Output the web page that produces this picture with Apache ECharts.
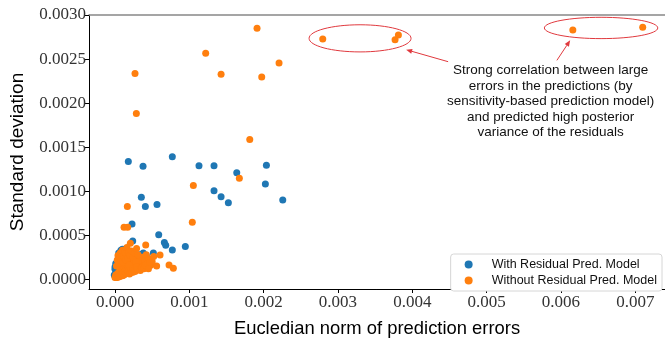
<!DOCTYPE html>
<html>
<head>
<meta charset="utf-8">
<script src="https://cdn.jsdelivr.net/npm/echarts@6/dist/echarts.min.js"></script>
<style>
  html, body { margin: 0; padding: 0; background: #fff; }
  #chart { width: 665px; height: 343px; }
</style>
</head>
<body>
<div id="chart"></div>
<script>
// tick labels
var xTicks = [0, 0.001, 0.002, 0.003, 0.004, 0.005, 0.006, 0.007];
var yTicks = [0, 0.0005, 0.001, 0.0015, 0.002, 0.0025, 0.003];

// with residual prediction model (blue), [error norm, std]
var withResidual = [
    [0.000179, 0.001338], [0.000377, 0.001283], [0.000771, 0.00139], [0.00113, 0.00129],
    [0.001332, 0.00129], [0.001638, 0.00121], [0.002037, 0.001294], [0.002023, 0.001081],
    [0.001332, 0.001004], [0.001427, 0.000937], [0.001525, 0.000868], [0.002257, 0.0009],
    [0.000354, 0.00093], [0.000408, 0.000827], [0.000565, 0.000849], [0.000229, 0.000629],
    [0.000588, 0.000507], [0.000664, 0.000419], [0.000682, 0.000386], [0.000771, 0.000334],
    [0.000946, 0.000371], [0.000238, 0.000434], [0.0001, 0.000342], [0.000516, 0.000298],
    [0.0, 0.000114], [0.00003, 0.00008], [-0.00001, 0.00005], [0.0, 0.00014],
    [0.00001, 0.00018], [0.00003, 0.0001], [0.00005, 0.00014], [0.00007, 0.000224],
    [0.00008, 0.00018], [0.0001, 0.00024], [0.00013, 0.0002], [0.00016, 0.00026],
    [0.0002, 0.00022], [0.00023, 0.0003], [0.00027, 0.00024], [0.00033, 0.00028],
    [0.00038, 0.0003], [0.00005, 0.0003], [0.00008, 0.00033], [0.00042, 0.00027]
];

// without residual prediction model (orange)
var withoutResidual = [
    [0.002795, 0.002727], [0.003768, 0.00272], [0.003813, 0.002772], [0.00616, 0.00283],
    [0.0071, 0.00286], [0.000269, 0.002335], [0.000287, 0.001883], [0.00122, 0.002566],
    [0.001427, 0.002327], [0.001911, 0.002849], [0.001974, 0.002297], [0.002207, 0.002456],
    [0.001813, 0.001588], [0.001673, 0.001147], [0.001054, 0.001066], [0.00104, 0.000647],
    [0.000166, 0.000827], [0.000121, 0.000592], [0.00017, 0.00059], [0.000206, 0.000408],
    [0.000413, 0.000389], [0.000606, 0.000276], [0.000727, 0.000162], [0.000785, 0.000125],
    [0.00056, 0.00015],
    [0.000005, 0.00003], [0.00001, 0.00005], [0.00002, 0.00004], [0.00003, 0.00006],
    [0.00004, 0.00003], [0.00005, 0.00008], [0.00006, 0.00005], [0.00007, 0.0001],
    [0.00008, 0.00007], [0.00009, 0.00012], [0.0001, 0.00004], [0.00011, 0.00009],
    [0.00012, 0.00014], [0.00013, 0.00006], [0.00014, 0.00011], [0.00015, 0.00017],
    [0.00016, 0.00008], [0.00017, 0.00013], [0.00018, 0.0002], [0.00019, 0.0001],
    [0.0002, 0.00015], [0.00021, 0.00024], [0.00022, 0.00012], [0.00023, 0.00018],
    [0.00024, 0.00008], [0.00025, 0.00021], [0.00026, 0.00014], [0.00027, 0.00027],
    [0.00028, 0.00011], [0.0003, 0.00017], [0.00032, 0.00022], [0.00033, 0.00013],
    [0.00035, 0.00019], [0.00037, 0.00025], [0.00038, 0.00015], [0.0004, 0.00021],
    [0.00042, 0.00028], [0.00044, 0.00018], [0.00046, 0.00023], [0.00048, 0.00016],
    [0.0005, 0.0002], [0.00052, 0.00026],
    [0.00002, 0.00015], [0.00003, 0.00022], [0.00004, 0.00027], [0.00005, 0.00018],
    [0.00006, 0.00025], [0.00007, 0.0003], [0.00008, 0.00021], [0.00009, 0.00028],
    [0.0001, 0.00033], [0.00011, 0.00019], [0.00012, 0.00026], [0.00013, 0.00031],
    [0.00014, 0.00022], [0.00015, 0.00029], [0.00016, 0.00036], [0.00017, 0.00024],
    [0.00018, 0.0003], [0.00019, 0.00016], [0.0002, 0.00027], [0.00022, 0.00032],
    [0.00024, 0.00025], [0.00026, 0.0003], [0.00028, 0.0002], [0.00029, 0.00035],
    [0.00031, 0.00028],
    [0.0, 0.00002], [0.000015, 0.00002], [0.00003, 0.00002], [0.000045, 0.00004],
    [0.00006, 0.00003], [0.000075, 0.00004], [0.00009, 0.00006], [0.000105, 0.00007],
    [0.00012, 0.00005], [0.000135, 0.00009], [0.00015, 0.00007], [0.000165, 0.0001],
    [0.00018, 0.00009], [0.000195, 0.00006], [0.00021, 0.0001], [0.000225, 0.00008],
    [0.00024, 0.00012], [0.000255, 0.0001], [0.00027, 0.00009], [0.00029, 0.00014],
    [0.00031, 0.00011], [0.00034, 0.0001], [0.00036, 0.00013], [0.00039, 0.00012],
    [0.00041, 0.00016], [0.00043, 0.00014], [0.00045, 0.00012], [0.00047, 0.00019]
];

// annotation, in data units
var ellipses = [
    { cx: 0.003297, cy: 0.002735, rx: 0.000686, ry: 0.000154 },
    { cx: 0.00654, cy: 0.002853, rx: 0.000763, ry: 0.000121 }
];
var arrows = [
    { from: [0.004482, 0.00247], to: [0.003917, 0.002606] },
    { from: [0.005945, 0.002485], to: [0.006124, 0.002713] }
];
var noteAt = [0.005861, 0.002018];
var noteText = 'Strong correlation between large\nerrors in the predictions (by\nsensitivity-based prediction model)\nand predicted high posterior\nvariance of the residuals';

var myChart = echarts.init(document.getElementById('chart'));

var serif = 'Liberation Serif';
var sans = 'Liberation Sans';

var option = {
    animation: false,
    grid: { left: 89, right: 0, top: 15, bottom: 46 },
    legend: {
        orient: 'vertical',
        right: 3,
        bottom: 52,
        icon: 'circle',
        itemWidth: 8,
        itemHeight: 8,
        itemGap: 3,
        padding: [4, 5, 4, 14],
        borderColor: '#d6d6d6',
        borderWidth: 1,
        borderRadius: 3,
        backgroundColor: '#fff',
        textStyle: { fontFamily: sans, fontSize: 12.5, color: '#111', padding: [0, 0, 0, 14] },
        data: ['With Residual Pred. Model', 'Without Residual Pred. Model']
    },
    xAxis: [{
        type: 'value',
        min: -0.00035,
        max: 0.0074,
        name: 'Eucledian norm of prediction errors',
        nameLocation: 'middle',
        nameGap: 31,
        nameTextStyle: { fontFamily: sans, fontSize: 18.4, color: '#000' },
        splitLine: { show: false },
        axisLine: { onZero: false, lineStyle: { color: '#000', width: 1 } },
        axisTick: { length: 4, lineStyle: { color: '#000' }, customValues: xTicks },
        axisLabel: {
            customValues: xTicks,
            margin: 5,
            fontFamily: serif,
            fontSize: 17,
            color: '#333',
            formatter: function (v) { return v.toFixed(3); }
        }
    }, {
        type: 'value',
        position: 'top',
        min: -0.00035,
        max: 0.0074,
        splitLine: { show: false },
        axisLine: { show: true, onZero: false, lineStyle: { color: '#888', width: 1.5 } },
        axisTick: { show: false },
        axisLabel: { show: false }
    }],
    yAxis: {
        type: 'value',
        min: -0.00011,
        max: 0.003,
        name: 'Standard deviation',
        nameLocation: 'middle',
        nameGap: 62,
        nameTextStyle: { fontFamily: sans, fontSize: 19, color: '#000' },
        splitLine: { show: false },
        axisLine: { show: true, onZero: false, lineStyle: { color: '#000', width: 1 } },
        axisTick: { show: true, length: 4, lineStyle: { color: '#000' }, customValues: yTicks },
        axisLabel: {
            customValues: yTicks,
            margin: 3,
            fontFamily: serif,
            fontSize: 17,
            color: '#333',
            formatter: function (v) { return v.toFixed(4); }
        }
    },
    series: [
        {
            name: 'With Residual Pred. Model',
            type: 'scatter',
            symbolSize: 7,
            itemStyle: { color: '#1f77b4', opacity: 1 },
            data: withResidual
        },
        {
            name: 'Without Residual Pred. Model',
            type: 'scatter',
            symbolSize: 7,
            itemStyle: { color: '#ff7f0e', opacity: 1 },
            data: withoutResidual
        }
    ]
};

myChart.setOption(option);

// annotation drawn after the scales exist
function px(p) { return myChart.convertToPixel({ gridIndex: 0 }, p); }
var red = '#e0393e';
var graphics = [];
ellipses.forEach(function (e) {
    var c = px([e.cx, e.cy]);
    var r = px([e.cx + e.rx, e.cy + e.ry]);
    graphics.push({
        type: 'ellipse',
        shape: { cx: c[0], cy: c[1], rx: r[0] - c[0], ry: c[1] - r[1] },
        style: { fill: 'none', stroke: red, lineWidth: 1 },
        z: 10
    });
});
arrows.forEach(function (a) {
    var p0 = px(a.from), p1 = px(a.to);
    var ang = Math.atan2(p1[1] - p0[1], p1[0] - p0[0]);
    var L = 6, W = 2.5;
    var bx = p1[0] - L * Math.cos(ang), by = p1[1] - L * Math.sin(ang);
    graphics.push({
        type: 'line',
        shape: { x1: p0[0], y1: p0[1], x2: bx, y2: by },
        style: { stroke: red, lineWidth: 1 },
        z: 10
    });
    graphics.push({
        type: 'polygon',
        shape: { points: [
            p1,
            [bx + W * Math.sin(ang), by - W * Math.cos(ang)],
            [bx - W * Math.sin(ang), by + W * Math.cos(ang)]
        ] },
        style: { fill: red },
        z: 10
    });
});
var t = px(noteAt);
graphics.push({
    type: 'text',
    x: t[0],
    y: t[1],
    style: {
        text: noteText,
        fontFamily: sans,
        fontSize: 13.5,
        lineHeight: 15.5,
        fill: '#111',
        align: 'center',
        verticalAlign: 'middle'
    },
    z: 10
});
myChart.setOption({ graphic: graphics });

window.addEventListener('resize', function () {
    myChart.resize();
});
</script>
</body>
</html>
